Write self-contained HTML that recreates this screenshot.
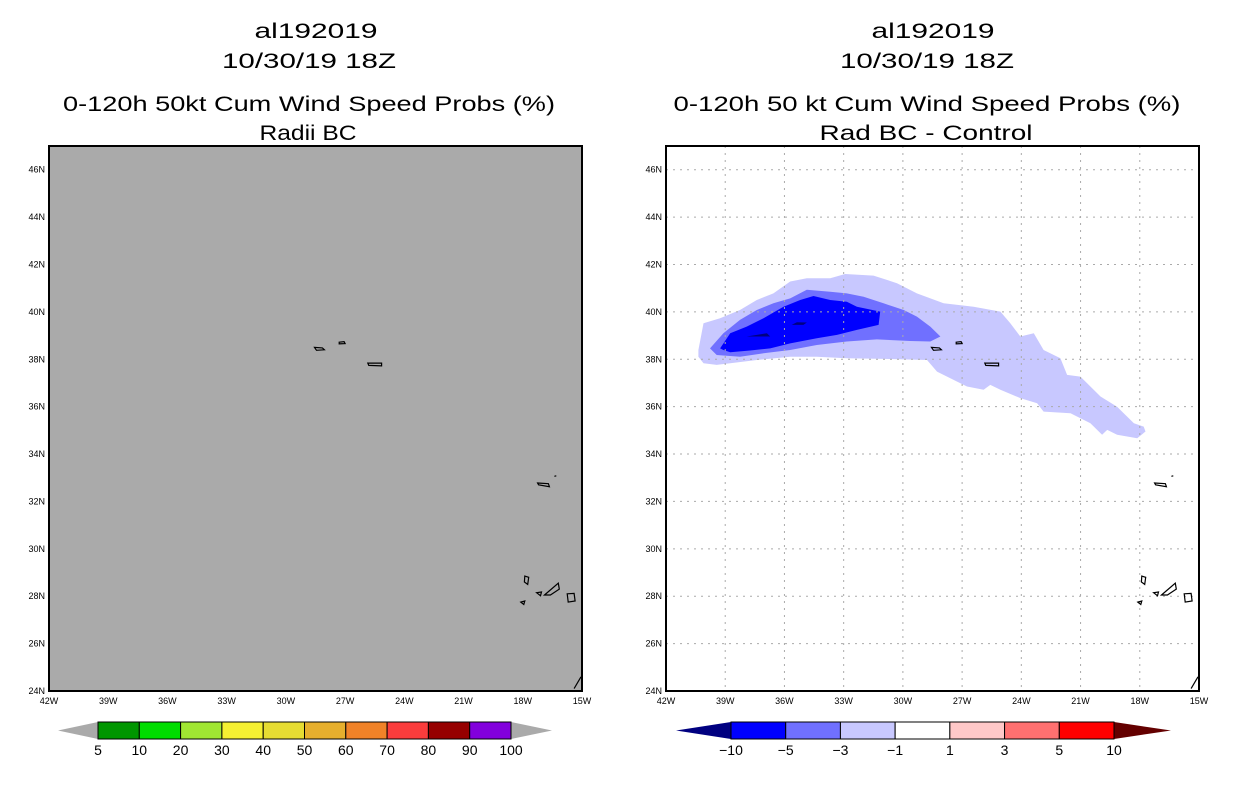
<!DOCTYPE html>
<html><head><meta charset="utf-8"><style>
body{margin:0;background:#fff;width:1236px;height:800px;overflow:hidden;font-family:"Liberation Sans",sans-serif}
svg text{font-family:"Liberation Sans",sans-serif}
</style></head><body>
<svg id="svg" width="1236" height="800">
<g font-size="21" text-anchor="middle" fill="#000">
<text x="316" y="38" textLength="123" lengthAdjust="spacingAndGlyphs">al192019</text>
<text x="309" y="68" textLength="174" lengthAdjust="spacingAndGlyphs">10/30/19 18Z</text>
<text x="309" y="111" textLength="492" lengthAdjust="spacingAndGlyphs">0-120h 50kt Cum Wind Speed Probs (%)</text>
<text x="308" y="140" textLength="97" lengthAdjust="spacingAndGlyphs">Radii BC</text>
</g>
<g font-size="21" text-anchor="middle" fill="#000">
<text x="933" y="38" textLength="123" lengthAdjust="spacingAndGlyphs">al192019</text>
<text x="927" y="68" textLength="174" lengthAdjust="spacingAndGlyphs">10/30/19 18Z</text>
<text x="927" y="111" textLength="507" lengthAdjust="spacingAndGlyphs">0-120h 50 kt Cum Wind Speed Probs (%)</text>
<text x="926" y="140" textLength="213" lengthAdjust="spacingAndGlyphs">Rad BC - Control</text>
</g>
<g id="left"></g>
<g id="right"></g>
<g id="cbars"></g>
</svg>
<script>
const NS="http://www.w3.org/2000/svg";
const lonTicks=[-42,-39,-36,-33,-30,-27,-24,-21,-18,-15];
const latTicks=[24,26,28,30,32,34,36,38,40,42,44,46];
const lightPoly=[[-40.36,38.39],[-40.10,39.52],[-39.26,39.73],[-38.25,40.08],[-37.40,40.50],[-36.56,40.78],[-35.71,41.28],[-34.87,41.42],[-33.68,41.42],[-32.92,41.60],[-31.49,41.53],[-30.30,41.21],[-29.29,40.78],[-27.94,40.36],[-26.42,40.22],[-25.06,40.01],[-24.56,39.52],[-24.05,38.96],[-23.37,39.10],[-22.87,38.39],[-22.02,38.04],[-21.68,37.34],[-21.01,37.27],[-19.99,36.43],[-19.15,36.00],[-18.30,35.30],[-17.80,35.16],[-17.71,34.95],[-18.13,34.67],[-19.15,34.81],[-19.65,35.02],[-19.91,34.81],[-20.50,35.30],[-21.51,35.72],[-22.87,35.79],[-23.20,36.14],[-24.05,36.36],[-25.06,36.71],[-25.57,36.92],[-25.91,36.71],[-26.75,36.85],[-27.43,37.13],[-28.27,37.48],[-28.78,37.97],[-30.64,38.01],[-32.84,38.04],[-34.36,38.11],[-35.71,38.11],[-37.40,37.97],[-38.75,37.83],[-39.43,37.76],[-40.10,37.83],[-40.36,38.11]];
const mediumPoly=[[-39.77,38.46],[-39.09,39.10],[-38.25,39.66],[-37.40,40.08],[-36.56,40.36],[-35.71,40.57],[-34.87,40.93],[-33.68,40.85],[-32.84,40.78],[-31.99,40.64],[-30.98,40.36],[-29.96,40.08],[-29.29,39.80],[-28.61,39.38],[-28.10,38.96],[-28.61,38.75],[-29.63,38.77],[-31.32,38.84],[-32.84,38.75],[-34.36,38.60],[-35.71,38.39],[-37.06,38.25],[-38.25,38.11],[-39.43,38.18]];
const darkPoly=[[-39.26,38.46],[-38.75,39.10],[-37.91,39.38],[-37.06,39.73],[-36.05,40.22],[-35.20,40.50],[-34.53,40.67],[-33.68,40.50],[-32.84,40.43],[-32.33,40.22],[-31.15,40.01],[-31.23,39.45],[-32.33,39.24],[-33.34,39.03],[-34.36,38.89],[-35.71,38.67],[-36.72,38.46],[-37.74,38.37],[-38.75,38.30],[-39.09,38.39]];
const darkestA=[[-37.91,38.96],[-36.89,39.10],[-36.72,38.96]];
const darkestB=[[-35.63,39.45],[-35.37,39.56],[-34.87,39.55],[-35.04,39.45]];
const islands=[
 [[-28.55,38.50],[-28.15,38.48],[-28.05,38.40],[-28.45,38.38]],
 [[-27.30,38.72],[-27.05,38.74],[-27.00,38.66],[-27.30,38.65]],
 [[-25.85,37.84],[-25.15,37.84],[-25.15,37.72],[-25.80,37.74]],
 [[-17.25,32.78],[-16.70,32.75],[-16.65,32.62],[-17.20,32.70]],
 [[-16.40,33.06],[-16.30,33.08]],
 [[-17.90,28.85],[-17.70,28.80],[-17.75,28.50],[-17.92,28.60]],
 [[-18.10,27.75],[-17.90,27.80],[-17.95,27.65]],
 [[-17.30,28.15],[-17.05,28.18],[-17.10,28.02]],
 [[-16.90,28.05],[-16.20,28.55],[-16.15,28.30],[-16.60,28.05]],
 [[-15.75,28.10],[-15.40,28.12],[-15.35,27.80],[-15.70,27.75]],
 [[-15.40,24.10],[-15.05,24.60]]
];
const leftLevels=["5","10","20","30","40","50","60","70","80","90","100"];
const leftColors=["#009600","#00dc00","#a0e632","#f5f032","#e6dc32","#e6af2d","#f08228","#fa3c3c","#960000","#8200dc"];
const rightLevels=["\u221210","\u22125","\u22123","\u22121","1","3","5","10"];
const rightColors=["#0000ff","#7070ff","#c8c8ff","#ffffff","#ffc8c8","#ff7070","#ff0000"];

function mk(tag,attrs,parent){const e=document.createElementNS(NS,tag);for(const k in attrs)e.setAttribute(k,attrs[k]);parent.appendChild(e);return e;}
function panel(g,x0,diff){
 const W=533,H=545,y0=146;
 const px=lon=>x0+(lon+42)/27*W, py=lat=>y0+(47-lat)/23*H;
 const pts=a=>a.map(p=>px(p[0]).toFixed(1)+","+py(p[1]).toFixed(1)).join(" ");
 const bg=mk("rect",{x:x0,y:y0,width:W,height:H,fill:diff?"#fff":"#aaaaaa"},g);
 
 
 if(diff){
  [[lightPoly,"#c8c8ff","contour-minus3-to-minus1"],[mediumPoly,"#7070ff","contour-minus5-to-minus3"],[darkPoly,"#0000ff","contour-minus10-to-minus5"],[darkestA,"#000080","contour-below-minus10-a"],[darkestB,"#000080","contour-below-minus10-b"]].forEach(c=>{
   const p=mk("polygon",{points:pts(c[0]),fill:c[1]},g);
   
   
  });
  lonTicks.slice(1,-1).forEach(l=>{const ln=mk("line",{x1:px(l),x2:px(l),y1:y0,y2:y0+H,stroke:"#aaa","stroke-dasharray":"2,5"},g);
   
   });
  latTicks.slice(1).forEach(l=>{const ln=mk("line",{x1:x0,x2:x0+W,y1:py(l),y2:py(l),stroke:"#aaa","stroke-dasharray":"2,5"},g);
   
   });
 }
 islands.forEach(is=>{const p=mk(is.length>2?"polygon":"polyline",{points:pts(is),fill:"none",stroke:"#000","stroke-width":1.2},g);
  
  });
 const fr=mk("rect",{x:x0,y:y0,width:W,height:H,fill:"none",stroke:"#000","stroke-width":2},g);
 
 
 lonTicks.forEach(l=>{const t=mk("text",{x:px(l),y:y0+H+13,"font-size":9,"text-anchor":"middle"},g);t.textContent=Math.abs(l)+"W";
  
  });
 latTicks.forEach(l=>{const t=mk("text",{x:x0-4,y:py(l)+3,"font-size":9,"text-anchor":"end"},g);t.textContent=l+"N";
  
  });
}
panel(document.getElementById("left"),49,false);
panel(document.getElementById("right"),666,true);

function cbar(g,x0,x1,tipL,tipR,levels,colors,lc,rc,off){
 const y0=722,y1=739,n=colors.length,w=(x1-x0)/n;
 const l=mk("polygon",{points:`${tipL},${(y0+y1)/2} ${x0},${y0} ${x0},${y1}`,fill:lc},g);
 
 
 const r=mk("polygon",{points:`${tipR},${(y0+y1)/2} ${x1},${y0} ${x1},${y1}`,fill:rc},g);
 
 
 colors.forEach((c,i)=>{const b=mk("rect",{x:x0+i*w,y:y0,width:w,height:y1-y0,fill:c,stroke:"#000","stroke-width":1},g);
  
  });
 levels.forEach((s,i)=>{const t=mk("text",{x:x0+(i+off)*w,y:755,"font-size":14,"text-anchor":"middle"},g);t.textContent=s;
  
  });
}
const cb=document.getElementById("cbars");
cbar(cb,98,511,58,552,leftLevels,leftColors,"#aaaaaa","#aaaaaa",0);
cbar(cb,731,1114,676,1171,rightLevels,rightColors,"#000080","#640000",0);
</script>
</body></html>
